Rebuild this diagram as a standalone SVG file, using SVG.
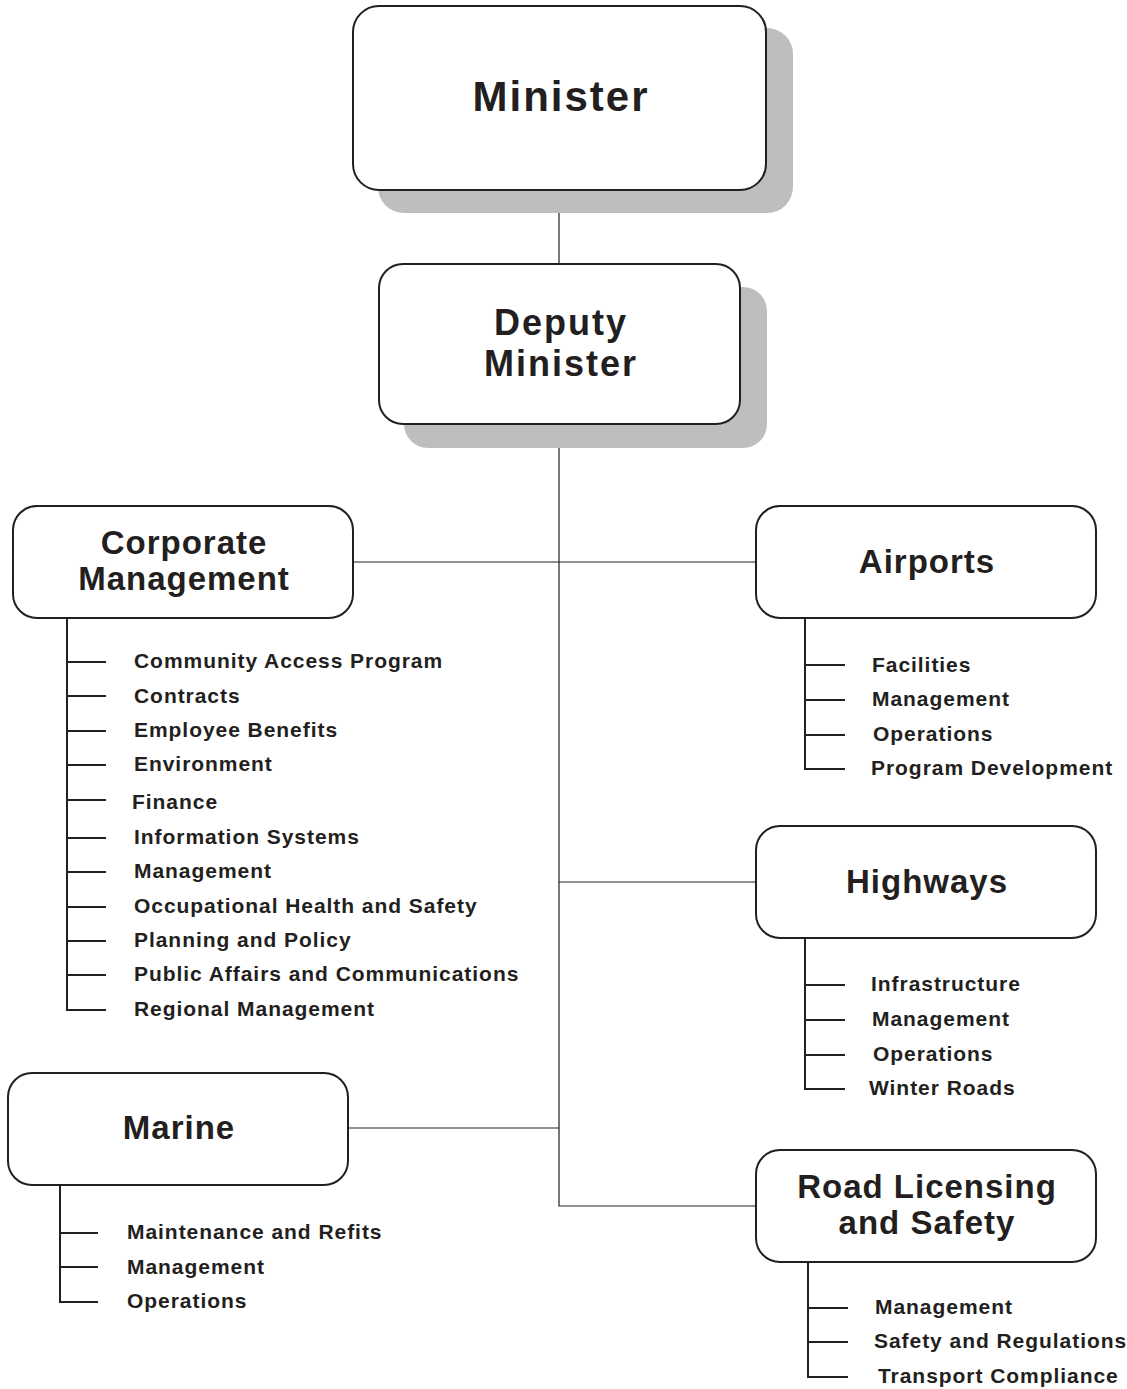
<svg xmlns="http://www.w3.org/2000/svg" width="1127" height="1389" viewBox="0 0 1127 1389">
<style>
.bg{fill:#ffffff}
.box{fill:#ffffff;stroke:#231f20;stroke-width:2}
.shadow{fill:#bcbec0}
.conn{stroke:#231f20;stroke-width:1.2;fill:none}
.sub{stroke:#231f20;stroke-width:2;fill:none}
.t{font-family:"Liberation Sans",Arial,Helvetica,sans-serif;font-weight:bold;fill:#231f20}
.title{font-size:33px;letter-spacing:1px;text-anchor:middle}
.item{font-size:21px;letter-spacing:0.95px}
</style>
<rect class="bg" x="0" y="0" width="1127" height="1389"/>
<g id="connectors">
<line class="conn" x1="559" y1="190" x2="559" y2="264"/>
<polyline class="conn" points="559,424 559,1206 756,1206"/>
<line class="conn" x1="353" y1="562" x2="756" y2="562"/>
<line class="conn" x1="559" y1="882" x2="756" y2="882"/>
<line class="conn" x1="348" y1="1128" x2="559" y2="1128"/>
</g>
<g id="minister">
<rect class="shadow" x="378" y="28" width="415" height="185" rx="26"/>
<rect class="box" x="353" y="6" width="413" height="184" rx="26"/>
<text class="t" x="561" y="111" font-size="42" letter-spacing="2" text-anchor="middle">Minister</text>
</g>
<g id="deputy-minister">
<rect class="shadow" x="404" y="287" width="363" height="161" rx="24"/>
<rect class="box" x="379" y="264" width="361" height="160" rx="24"/>
<text class="t" x="561" y="335" font-size="36" letter-spacing="2" text-anchor="middle">Deputy</text>
<text class="t" x="561" y="376" font-size="36" letter-spacing="2" text-anchor="middle">Minister</text>
</g>
<g id="corporate-management">
<rect class="box" x="13" y="506" width="340" height="112" rx="24"/>
<text class="t title" x="184" y="554">Corporate</text>
<text class="t title" x="184" y="590">Management</text>
<path class="sub" d="M67,618 V1010 H106 M67,662 H106 M67,696 H106 M67,731 H106 M67,765 H106 M67,800 H106 M67,838 H106 M67,872 H106 M67,907 H106 M67,941 H106 M67,975 H106"/>
<text class="t item" x="134" y="668">Community Access Program</text>
<text class="t item" x="134" y="703">Contracts</text>
<text class="t item" x="134" y="737">Employee Benefits</text>
<text class="t item" x="134" y="771">Environment</text>
<text class="t item" x="132" y="809">Finance</text>
<text class="t item" x="134" y="844">Information Systems</text>
<text class="t item" x="134" y="878">Management</text>
<text class="t item" x="134" y="913">Occupational Health and Safety</text>
<text class="t item" x="134" y="947">Planning and Policy</text>
<text class="t item" x="134" y="981">Public Affairs and Communications</text>
<text class="t item" x="134" y="1016">Regional Management</text>
</g>
<g id="airports">
<rect class="box" x="756" y="506" width="340" height="112" rx="24"/>
<text class="t title" x="927" y="573">Airports</text>
<path class="sub" d="M805,618 V769 H845 M805,665 H845 M805,700 H845 M805,735 H845"/>
<text class="t item" x="872" y="672">Facilities</text>
<text class="t item" x="872" y="706">Management</text>
<text class="t item" x="873" y="741">Operations</text>
<text class="t item" x="871" y="775">Program Development</text>
</g>
<g id="highways">
<rect class="box" x="756" y="826" width="340" height="112" rx="24"/>
<text class="t title" x="927" y="893">Highways</text>
<path class="sub" d="M805,938 V1089 H845 M805,985 H845 M805,1020 H845 M805,1055 H845"/>
<text class="t item" x="871" y="991">Infrastructure</text>
<text class="t item" x="872" y="1026">Management</text>
<text class="t item" x="873" y="1061">Operations</text>
<text class="t item" x="869" y="1095">Winter Roads</text>
</g>
<g id="marine">
<rect class="box" x="8" y="1073" width="340" height="112" rx="24"/>
<text class="t title" x="179" y="1139">Marine</text>
<path class="sub" d="M60,1185 V1302 H98 M60,1233 H98 M60,1267 H98"/>
<text class="t item" x="127" y="1239">Maintenance and Refits</text>
<text class="t item" x="127" y="1274">Management</text>
<text class="t item" x="127" y="1308">Operations</text>
</g>
<g id="road-licensing-and-safety">
<rect class="box" x="756" y="1150" width="340" height="112" rx="24"/>
<text class="t title" x="927" y="1198">Road Licensing</text>
<text class="t title" x="927" y="1234">and Safety</text>
<path class="sub" d="M808,1262 V1377 H848 M808,1308 H848 M808,1342 H848"/>
<text class="t item" x="875" y="1314">Management</text>
<text class="t item" x="874" y="1348">Safety and Regulations</text>
<text class="t item" x="878" y="1383">Transport Compliance</text>
</g>
</svg>
